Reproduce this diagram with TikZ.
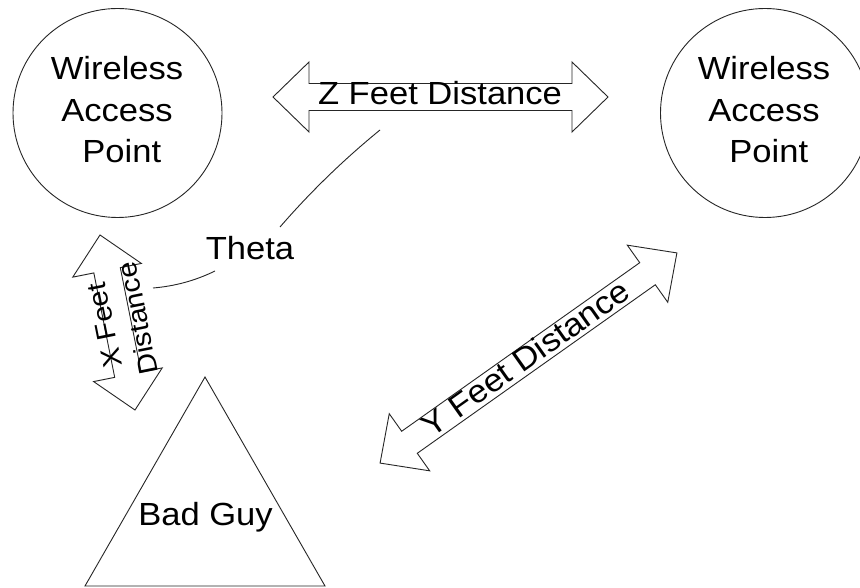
\documentclass[tikz,border=0pt]{standalone}
\usepackage{fontspec}
\setmainfont{Liberation Sans}[FakeStretch=1.08]

% Double-headed block arrow: centre, direction (degrees), tip-to-tip length
\newcommand{\blockarrow}[3]{%
  \begin{scope}[shift={#1}, rotate=#2]
    \draw[outline]
      (-#3/2,0) -- (-#3/2+36,-35) -- (-#3/2+36,-13.5) -- (#3/2-36,-13.5)
      -- (#3/2-36,-35) -- (#3/2,0) -- (#3/2-36,35) -- (#3/2-36,13.5)
      -- (-#3/2+36,13.5) -- (-#3/2+36,35) -- cycle;
  \end{scope}}

\begin{document}
\begin{tikzpicture}[x=1pt, y=-1pt,
  outline/.style={draw=black!85, line width=0.9pt, line join=miter},
  bigtext/.style={font=\fontsize{32}{41.5}\selectfont, inner sep=0pt, align=center},
  smalltext/.style={font=\fontsize{27}{34}\selectfont, inner sep=0pt},
  apcircle/.style={circle, outline, minimum size=209pt, inner sep=0pt}]

\useasboundingbox (0,0) rectangle (860,588);
\fill[white] (0,0) rectangle (860,588);

% access points
\node[apcircle] (apL) at (117.5,113) {};
\node[bigtext] (apLtext) at (117,110) {Wireless\\Access\\\mbox{\ Point}};
\node[apcircle] (apR) at (765,113) {};
\node[bigtext] (apRtext) at (764,110) {Wireless\\Access\\\mbox{\ Point}};

% bad guy
\draw[outline] (205,377) -- (325,586) -- (85,586) -- cycle;
\node[bigtext, anchor=base] (bad) at (205.5,525.7) {Bad Guy};

% Z distance between the access points
\blockarrow{(440.5,97)}{0}{335}
\node[bigtext, anchor=base] (zlabel) at (440,105) {Z Feet Distance};

% X distance from access point to bad guy
\blockarrow{(117.5,322.5)}{101.3}{178.5}
\node[smalltext, rotate=101.3, anchor=base] (xlabelA) at (113.6,323.3) {X Feet};
\node[smalltext, rotate=101.3, anchor=base] (xlabelB) at (146.9,316.6) {Distance};

% Y distance from bad guy to access point
\blockarrow{(528.5,358)}{35.3}{363.7}
\node[bigtext, rotate=35.3, anchor=base] (ylabel) at (532,367) {Y Feet Distance};

% angle theta
\node[bigtext, anchor=base] (theta) at (250,260) {Theta};
\coordinate (thA) at (380,130);
\coordinate (thB) at (280,227);
\coordinate (thC) at (215,271);
\coordinate (thD) at (153,288);
\draw[outline] (thA) .. controls (343.9,159.4) and (310.5,191.8) .. (thB);
\draw[outline] (thC) .. controls (195.4,280.6) and (174.8,286.2) .. (thD);

\end{tikzpicture}
\end{document}
